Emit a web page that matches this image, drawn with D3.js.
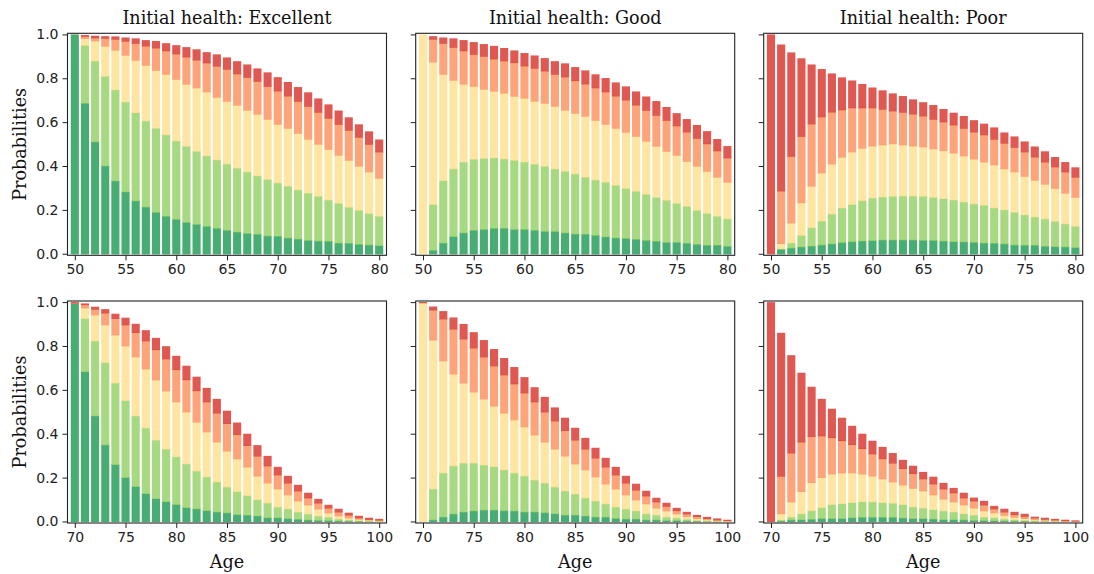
<!DOCTYPE html>
<html>
<head>
<meta charset="utf-8">
<script src="https://cdn.jsdelivr.net/npm/d3@7"></script>
<style>
  html, body { margin: 0; padding: 0; background: #fff; }
  svg { display: block; }
  .tick text { font-family: "DejaVu Sans", sans-serif; font-size: 14px; fill: #222; }
  .tick line { stroke: #222; }
</style>
</head>
<body>
<svg id="chart" width="1094" height="574"></svg>
<script>
// ---------------- DATA ----------------
const states = ["Excellent", "Very good", "Good", "Fair", "Poor"];
const stateColors = ["#1a9850", "#91cf60", "#fee08b", "#fc8d59", "#d73027"];
const panelTitles = ["Initial health: Excellent", "Initial health: Good", "Initial health: Poor"];

const agesTop = [50,51,52,53,54,55,56,57,58,59,60,61,62,63,64,65,66,67,68,69,70,71,72,73,74,75,76,77,78,79,80];
const agesBottom = [70,71,72,73,74,75,76,77,78,79,80,81,82,83,84,85,86,87,88,89,90,91,92,93,94,95,96,97,98,99,100];
const xTicksTop = [50,55,60,65,70,75,80];
const xTicksBottom = [70,75,80,85,90,95,100];
const yTicks = [0.0, 0.2, 0.4, 0.6, 0.8, 1.0];

// Top row, initial health Excellent (from age 50)
const top_exc_Excellent = [1.0,0.687,0.511,0.401,0.333,0.283,0.242,0.214,0.190,0.172,0.158,0.144,0.135,0.126,0.117,0.108,0.100,0.094,0.090,0.082,0.081,0.073,0.068,0.062,0.059,0.058,0.050,0.049,0.044,0.041,0.038];
const top_exc_VeryGood  = [0,0.264,0.369,0.409,0.415,0.410,0.402,0.392,0.383,0.371,0.357,0.347,0.333,0.321,0.312,0.302,0.291,0.280,0.266,0.258,0.243,0.236,0.224,0.215,0.204,0.188,0.181,0.164,0.155,0.144,0.134];
const top_exc_Good      = [0,0.031,0.091,0.137,0.181,0.213,0.239,0.254,0.264,0.276,0.281,0.283,0.289,0.292,0.285,0.286,0.287,0.281,0.281,0.274,0.267,0.264,0.258,0.246,0.237,0.231,0.219,0.214,0.201,0.189,0.173];
const top_exc_Fair      = [0,0.010,0.014,0.036,0.050,0.064,0.077,0.088,0.102,0.107,0.116,0.124,0.127,0.132,0.142,0.146,0.143,0.150,0.150,0.150,0.152,0.147,0.146,0.150,0.146,0.142,0.141,0.137,0.132,0.126,0.120];
const top_exc_Poor      = [0,0.005,0.009,0.009,0.012,0.016,0.022,0.026,0.031,0.034,0.039,0.044,0.048,0.048,0.053,0.053,0.057,0.058,0.058,0.063,0.062,0.063,0.064,0.063,0.062,0.062,0.062,0.058,0.058,0.058,0.056];

// Top row, initial health Good (from age 50)
const top_good_Excellent = [0,0.017,0.050,0.079,0.096,0.108,0.112,0.117,0.117,0.112,0.112,0.108,0.103,0.103,0.096,0.091,0.090,0.085,0.078,0.073,0.071,0.067,0.062,0.058,0.053,0.053,0.049,0.044,0.040,0.040,0.035];
const top_good_VeryGood  = [0,0.209,0.284,0.309,0.323,0.324,0.324,0.321,0.316,0.315,0.307,0.301,0.297,0.285,0.281,0.274,0.260,0.252,0.249,0.240,0.228,0.219,0.210,0.200,0.192,0.178,0.168,0.155,0.145,0.132,0.125];
const top_good_Good      = [1.0,0.649,0.485,0.404,0.355,0.332,0.315,0.304,0.300,0.292,0.291,0.287,0.287,0.285,0.278,0.276,0.278,0.272,0.264,0.260,0.256,0.250,0.242,0.233,0.223,0.219,0.205,0.201,0.192,0.178,0.167];
const top_good_Fair      = [0,0.104,0.141,0.150,0.152,0.146,0.150,0.147,0.147,0.153,0.147,0.151,0.147,0.146,0.152,0.149,0.147,0.148,0.148,0.147,0.147,0.143,0.141,0.141,0.141,0.134,0.134,0.127,0.125,0.120,0.111];
const top_good_Poor      = [0,0.013,0.026,0.040,0.048,0.055,0.055,0.059,0.058,0.055,0.058,0.057,0.058,0.059,0.061,0.061,0.061,0.061,0.062,0.061,0.061,0.061,0.062,0.064,0.060,0.057,0.058,0.060,0.057,0.053,0.053];

// Top row, initial health Poor (from age 50)
const top_poor_Excellent = [0,0.021,0.027,0.032,0.036,0.041,0.046,0.052,0.056,0.059,0.061,0.064,0.064,0.064,0.064,0.062,0.062,0.059,0.056,0.055,0.053,0.050,0.049,0.046,0.041,0.040,0.040,0.035,0.033,0.032,0.029];
const top_poor_VeryGood  = [0,0.003,0.023,0.053,0.084,0.109,0.136,0.158,0.170,0.184,0.194,0.196,0.199,0.200,0.200,0.201,0.196,0.193,0.190,0.182,0.175,0.172,0.161,0.155,0.149,0.138,0.129,0.125,0.116,0.105,0.097];
const top_poor_Good      = [0,0.023,0.091,0.148,0.189,0.219,0.228,0.231,0.239,0.239,0.237,0.237,0.239,0.233,0.228,0.225,0.221,0.219,0.214,0.210,0.205,0.197,0.196,0.187,0.184,0.176,0.167,0.158,0.150,0.140,0.132];
const top_poor_Fair      = [0,0.240,0.304,0.303,0.284,0.256,0.237,0.216,0.201,0.184,0.174,0.163,0.150,0.149,0.146,0.141,0.135,0.131,0.128,0.126,0.123,0.124,0.117,0.117,0.112,0.111,0.106,0.101,0.098,0.097,0.092];
const top_poor_Poor      = [1.0,0.667,0.473,0.355,0.270,0.217,0.175,0.147,0.124,0.108,0.092,0.085,0.079,0.073,0.066,0.062,0.064,0.058,0.055,0.055,0.053,0.050,0.053,0.048,0.049,0.047,0.047,0.048,0.044,0.044,0.044];

// Bottom row, initial health Excellent (from age 70)
const bot_exc_Excellent = [0.995,0.684,0.482,0.350,0.260,0.201,0.160,0.128,0.105,0.091,0.078,0.064,0.058,0.050,0.044,0.040,0.032,0.030,0.026,0.018,0.018,0.014,0.011,0.008,0.006,0.005,0.003,0.002,0.0015,0.001,0.0005];
const bot_exc_VeryGood  = [0,0.242,0.342,0.375,0.372,0.351,0.322,0.299,0.267,0.240,0.218,0.199,0.173,0.154,0.137,0.118,0.105,0.089,0.074,0.067,0.049,0.044,0.033,0.027,0.020,0.016,0.009,0.006,0.0035,0.002,0.0015];
const bot_exc_Good      = [0,0.048,0.118,0.172,0.219,0.249,0.269,0.269,0.274,0.265,0.250,0.237,0.223,0.205,0.182,0.164,0.149,0.130,0.108,0.091,0.082,0.064,0.050,0.041,0.032,0.019,0.014,0.009,0.006,0.004,0.003];
const bot_exc_Fair      = [0.002,0.015,0.026,0.054,0.075,0.096,0.111,0.128,0.138,0.146,0.147,0.147,0.143,0.137,0.132,0.125,0.111,0.098,0.091,0.078,0.064,0.054,0.046,0.032,0.027,0.022,0.018,0.013,0.006,0.003,0.002];
const bot_exc_Poor      = [0.003,0.005,0.011,0.017,0.021,0.032,0.039,0.048,0.053,0.057,0.062,0.063,0.063,0.063,0.064,0.058,0.054,0.053,0.049,0.045,0.036,0.032,0.027,0.023,0.018,0.014,0.014,0.010,0.009,0.007,0.005];

// Bottom row, initial health Good (from age 70)
const bot_good_Excellent = [0,0.008,0.021,0.035,0.044,0.049,0.053,0.053,0.050,0.049,0.044,0.044,0.041,0.036,0.030,0.030,0.026,0.021,0.021,0.015,0.012,0.012,0.008,0.008,0.005,0.005,0.003,0.002,0.001,0.0007,0.0005];
const bot_good_VeryGood  = [0,0.141,0.201,0.219,0.223,0.218,0.205,0.198,0.186,0.173,0.164,0.146,0.135,0.122,0.110,0.096,0.082,0.073,0.060,0.052,0.046,0.037,0.028,0.022,0.016,0.012,0.008,0.004,0.003,0.0013,0.0007];
const bot_good_Good      = [0.997,0.679,0.511,0.419,0.365,0.324,0.301,0.276,0.259,0.242,0.224,0.205,0.187,0.173,0.159,0.137,0.128,0.110,0.091,0.082,0.064,0.050,0.045,0.032,0.028,0.018,0.012,0.008,0.005,0.003,0.0018];
const bot_good_Fair      = [0.001,0.137,0.191,0.205,0.201,0.201,0.192,0.183,0.174,0.164,0.155,0.151,0.137,0.128,0.116,0.109,0.095,0.086,0.077,0.064,0.054,0.045,0.036,0.028,0.021,0.015,0.012,0.009,0.005,0.003,0.002];
const bot_good_Poor      = [0.002,0.015,0.035,0.052,0.067,0.071,0.076,0.076,0.076,0.076,0.071,0.066,0.068,0.061,0.058,0.055,0.050,0.046,0.041,0.036,0.032,0.028,0.023,0.018,0.015,0.012,0.009,0.007,0.007,0.006,0.003];

// Bottom row, initial health Poor (from age 70)
const bot_poor_Excellent = [0,0.003,0.008,0.009,0.011,0.014,0.014,0.014,0.018,0.020,0.020,0.020,0.020,0.017,0.014,0.014,0.012,0.009,0.009,0.008,0.006,0.005,0.004,0.003,0.002,0.002,0.001,0.0008,0.0005,0.0003,0.0002];
const bot_poor_VeryGood  = [0,0.005,0.013,0.027,0.039,0.050,0.064,0.068,0.069,0.071,0.070,0.067,0.064,0.061,0.053,0.048,0.043,0.040,0.035,0.028,0.024,0.016,0.014,0.009,0.007,0.004,0.003,0.0022,0.0015,0.0007,0.0003];
const bot_poor_Good      = [0,0.028,0.069,0.101,0.128,0.137,0.139,0.140,0.135,0.126,0.118,0.108,0.097,0.089,0.085,0.078,0.067,0.054,0.046,0.040,0.032,0.028,0.022,0.017,0.011,0.008,0.005,0.003,0.002,0.001,0.0005];
const bot_poor_Fair      = [0,0.171,0.223,0.226,0.210,0.190,0.166,0.147,0.129,0.116,0.101,0.092,0.086,0.075,0.067,0.055,0.050,0.046,0.041,0.032,0.032,0.027,0.018,0.015,0.012,0.010,0.008,0.005,0.004,0.002,0.002];
const bot_poor_Poor      = [1.0,0.653,0.445,0.315,0.226,0.168,0.131,0.104,0.085,0.067,0.059,0.053,0.045,0.039,0.035,0.031,0.032,0.027,0.022,0.023,0.015,0.018,0.013,0.014,0.012,0.011,0.005,0.006,0.004,0.004,0.002];

// ---------------- BUILD ----------------
const panels = [
  { row: 0, col: 0, ages: agesTop, ticks: xTicksTop, series: [top_exc_Excellent, top_exc_VeryGood, top_exc_Good, top_exc_Fair, top_exc_Poor] },
  { row: 0, col: 1, ages: agesTop, ticks: xTicksTop, series: [top_good_Excellent, top_good_VeryGood, top_good_Good, top_good_Fair, top_good_Poor] },
  { row: 0, col: 2, ages: agesTop, ticks: xTicksTop, series: [top_poor_Excellent, top_poor_VeryGood, top_poor_Good, top_poor_Fair, top_poor_Poor] },
  { row: 1, col: 0, ages: agesBottom, ticks: xTicksBottom, series: [bot_exc_Excellent, bot_exc_VeryGood, bot_exc_Good, bot_exc_Fair, bot_exc_Poor] },
  { row: 1, col: 1, ages: agesBottom, ticks: xTicksBottom, series: [bot_good_Excellent, bot_good_VeryGood, bot_good_Good, bot_good_Fair, bot_good_Poor] },
  { row: 1, col: 2, ages: agesBottom, ticks: xTicksBottom, series: [bot_poor_Excellent, bot_poor_VeryGood, bot_poor_Good, bot_poor_Fair, bot_poor_Poor] }
];

const colLeft = [67.5, 415.7, 763.7];
const panelW = 319;
const rowTop = [33.3, 301];
const panelH = 222;
const serif = "'DejaVu Serif', serif";
const labelSize = 17.6;

const svg = d3.select("#chart");
const color = d3.scaleOrdinal().domain(states).range(stateColors);

panels.forEach(p => {
  const x0 = colLeft[p.col], y0 = rowTop[p.row];
  const g = svg.append("g").attr("transform", `translate(${x0},${y0})`);
  const first = p.ages[0], last = p.ages[p.ages.length - 1];
  const x = d3.scaleLinear().domain([first - 0.72, last + 0.72]).range([0, panelW]);
  const y = d3.scaleLinear().domain([-0.007, 1.005]).range([panelH, 0]);
  const step = x(first + 1) - x(first);
  const bw = step * 0.8;

  const rows = p.ages.map((a, i) => {
    const r = { age: a };
    states.forEach((s, k) => { r[s] = p.series[k][i]; });
    return r;
  });
  const stacked = d3.stack().keys(states)(rows);

  g.selectAll("g.layer").data(stacked).join("g")
    .attr("class", "layer")
    .attr("fill", d => color(d.key))
    .attr("fill-opacity", 0.8)
    .selectAll("rect").data(d => d).join("rect")
      .attr("x", d => x(d.data.age) - bw / 2)
      .attr("width", bw)
      .attr("y", d => y(d[1]))
      .attr("height", d => Math.max(0, y(d[0]) - y(d[1]) + (d[1] - d[0] > 0 ? 0.6 : 0)));

  // axes
  const xa = g.append("g").attr("transform", `translate(0,${panelH})`)
    .call(d3.axisBottom(x).tickValues(p.ticks).tickFormat(d3.format("d")).tickSize(5).tickPadding(4).tickSizeOuter(0));
  xa.select(".domain").remove();
  const ya = g.append("g")
    .call(d3.axisLeft(y).tickValues(yTicks).tickFormat(p.col === 0 ? d3.format(".1f") : () => "").tickSize(5).tickPadding(4).tickSizeOuter(0));
  ya.select(".domain").remove();

  g.append("rect").attr("x", 0).attr("y", 0).attr("width", panelW).attr("height", panelH)
    .attr("fill", "none").attr("stroke", "#222").attr("stroke-width", 1.1);

  if (p.row === 0) {
    g.append("text").attr("x", panelW / 2).attr("y", -9.5)
      .attr("text-anchor", "middle").attr("font-family", serif).attr("font-size", labelSize).attr("fill", "#111")
      .text(panelTitles[p.col]);
  }
  if (p.row === 1) {
    g.append("text").attr("x", panelW / 2).attr("y", panelH + 45)
      .attr("text-anchor", "middle").attr("font-family", serif).attr("font-size", labelSize).attr("fill", "#111")
      .text("Age");
  }
  if (p.col === 0) {
    g.append("text").attr("transform", `translate(${-42},${panelH / 2}) rotate(-90)`)
      .attr("text-anchor", "middle").attr("font-family", serif).attr("font-size", labelSize).attr("fill", "#111")
      .text("Probabilities");
  }
});
</script>
</body>
</html>
